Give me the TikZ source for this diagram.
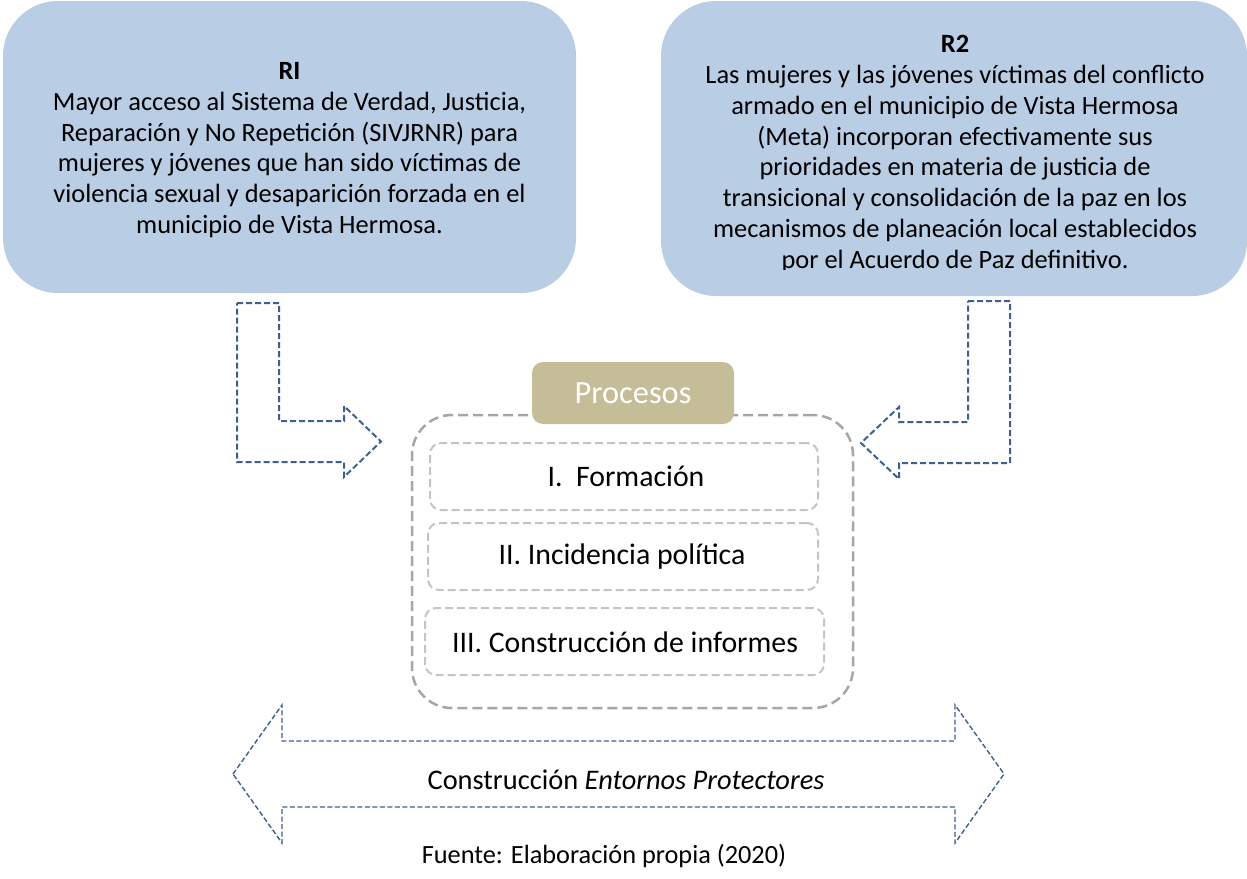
\documentclass[tikz,border=0pt]{standalone}
\usepackage{fontspec}
\setmainfont{Carlito}
\definecolor{boxblue}{HTML}{B9CDE5}
\definecolor{tabtan}{HTML}{C4BD97}
\definecolor{arrblue}{HTML}{3C6090}
\definecolor{outgray}{HTML}{A6A6A6}
\definecolor{ingray}{HTML}{C4C4C4}
\tikzset{
  rbox/.style={draw=none, fill=boxblue, rounded corners=55pt, inner sep=0pt},
  rtext/.style={align=center, inner sep=0pt, font=\fontsize{26.4}{30.8}\selectfont},
  blockarrow/.style={draw=arrblue, line width=2pt, dash pattern=on 6pt off 3pt, line join=miter},
  widearrow/.style={draw=arrblue, line width=1.4pt, dash pattern=on 5pt off 2.5pt, line join=miter},
  outerbox/.style={draw=outgray, line width=2.5pt, dash pattern=on 10pt off 5pt, rounded corners=40pt, inner sep=0pt},
  stepbox/.style={draw=ingray, line width=2pt, dash pattern=on 8pt off 4pt, rounded corners=11pt, inner sep=0pt},
  tabbox/.style={fill=tabtan, rounded corners=11pt, inner sep=0pt, text=white, font=\fontsize{32.4}{36}\selectfont},
  steptext/.style={inner sep=0pt, font=\fontsize{29.8}{34}\selectfont},
  plain/.style={inner sep=0pt, font=\fontsize{28.4}{32}\selectfont}
}
\begin{document}
\begin{tikzpicture}[x=1pt,y=-1pt]
\useasboundingbox (0,0) rectangle (1247,878);
% R1
\node[rbox, minimum width=573pt, minimum height=292pt] (r1) at (289.5,147) {};
\node[rtext] (r1t) at (289.5,150) {\textbf{RI}\\
Mayor acceso al Sistema de Verdad, Justicia,\\
Reparación y No Repetición (SIVJRNR) para\\
mujeres y jóvenes que han sido víctimas de\\
violencia sexual y desaparición forzada en el\\
municipio de Vista Hermosa.};
% R2
\node[rbox, minimum width=586pt, minimum height=295pt] (r2) at (954,148.5) {};
\begin{scope}
\clip (661,0) rectangle (1247,269);
\node[rtext] (r2t) at (955,154) {\textbf{R2}\\
Las mujeres y las jóvenes víctimas del conflicto\\
armado en el municipio de Vista Hermosa\\
(Meta) incorporan efectivamente sus\\
prioridades en materia de justicia de\\
transicional y consolidación de la paz en los\\
mecanismos de planeación local establecidos\\
por el Acuerdo de Paz definitivo.};
\end{scope}
% L arrows
\draw[blockarrow] (237,303) -- (279,303) -- (279,421) -- (344,421) -- (344,406) -- (381,441.5) -- (344,477) -- (344,462) -- (237,462) -- cycle;
\draw[blockarrow] (968,301) -- (1010,301) -- (1010,463) -- (899,463) -- (899,479) -- (861,443) -- (899,407) -- (899,422) -- (968,422) -- cycle;
% Procesos container
\node[outerbox, minimum width=441pt, minimum height=293pt] (outer) at (632.5,561.5) {};
\node[tabbox, minimum width=202pt, minimum height=62pt] (tab) at (633,393) {Procesos};
\node[stepbox, minimum width=388pt, minimum height=67pt] (s1) at (624,476.5) {};
\node[stepbox, minimum width=390pt, minimum height=67pt] (s2) at (623,556.5) {};
\node[stepbox, minimum width=399pt, minimum height=67pt] (s3) at (624.5,641.5) {};
\node[steptext] (s1t) at (626,476) {I.\ \ Formación};
\node[steptext] (s2t) at (622,557) {II. Incidencia política};
\node[steptext] (s3t) at (625,642) {III. Construcción de informes};
% wide double arrow
\draw[widearrow] (233,774) -- (282,705) -- (282,741) -- (955,741) -- (955,705) -- (1004,774) -- (955,843) -- (955,807) -- (282,807) -- (282,843) -- cycle;
\node[plain] (ent) at (626,780) {Construcción \textit{Entornos Protectores}};
\node[plain, font=\fontsize{26.3}{30}\selectfont] (fuente) at (604,856) {Fuente: Elaboración propia (2020)};
\end{tikzpicture}
\end{document}
